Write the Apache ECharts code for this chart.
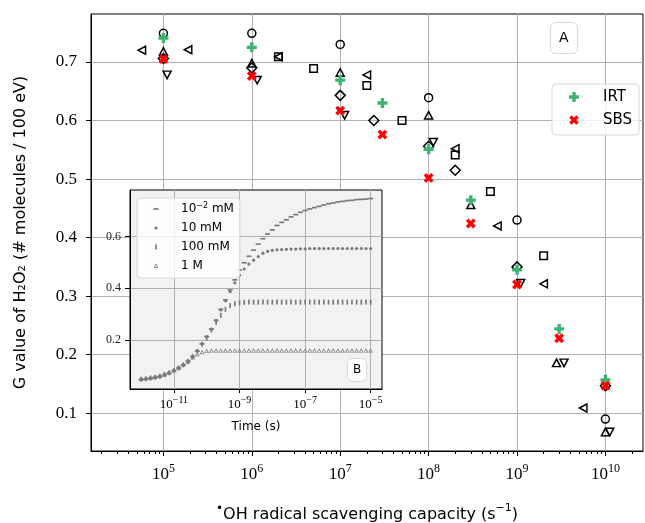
<!DOCTYPE html>
<html>
<head>
<meta charset="utf-8">
<script src="https://cdn.jsdelivr.net/npm/echarts@6/dist/echarts.min.js"></script>
<style>
  html, body { margin: 0; padding: 0; background: #fff; }
  #chart { width: 645px; height: 523px; }
</style>
</head>
<body>
<div id="chart"></div>
<script>
// Panel A: G value vs *OH scavenging capacity (s^-1)
const irtX = [1e5, 1e6, 1e7, 3e7, 1e8, 3e8, 1e9, 3e9, 1e10];
const irtY = [0.741, 0.725, 0.669, 0.630, 0.551, 0.464, 0.345, 0.244, 0.157];
const sbsX = [1e5, 1e6, 1e7, 3e7, 1e8, 3e8, 1e9, 3e9, 1e10];
const sbsY = [0.705, 0.676, 0.617, 0.576, 0.502, 0.424, 0.320, 0.228, 0.147];

// literature points (open black markers)
const circX = [1e5, 1e6, 1e7, 1e8, 1e9, 1e10];
const circY = [0.749, 0.749, 0.730, 0.639, 0.430, 0.090];
const triUpX = [1e5, 1e6, 1e7, 1e8, 3e8, 2.8e9, 1e10];
const triUpY = [0.718, 0.698, 0.682, 0.609, 0.456, 0.186, 0.068];
const triDownX = [1.1e5, 1.15e6, 1.12e7, 1.13e8, 1.1e9, 3.4e9, 1.12e10];
const triDownY = [0.678, 0.669, 0.609, 0.563, 0.322, 0.186, 0.068];
const triLeftX = [5.7e4, 1.9e5, 2e6, 2e7, 2e8, 6e8, 2e9, 5.6e9];
const triLeftY = [0.720, 0.721, 0.709, 0.678, 0.552, 0.420, 0.321, 0.109];
const diamX = [1e5, 1e6, 1e7, 2.4e7, 1e8, 2e8, 1e9, 1e10];
const diamY = [0.706, 0.690, 0.643, 0.600, 0.556, 0.515, 0.350, 0.147];
const sqX = [2e6, 5e6, 2e7, 5e7, 2e8, 5e8, 2e9];
const sqY = [0.709, 0.689, 0.660, 0.600, 0.541, 0.479, 0.369];

// Panel B: G(t), time as log10(seconds)
const timeExp = [-12, -11.857, -11.714, -11.571, -11.429, -11.286, -11.143, -11, -10.857, -10.714,
  -10.571, -10.429, -10.286, -10.143, -10, -9.857, -9.714, -9.571, -9.429, -9.286,
  -9.143, -9, -8.857, -8.714, -8.571, -8.429, -8.286, -8.143, -8, -7.857,
  -7.714, -7.571, -7.429, -7.286, -7.143, -7, -6.857, -6.714, -6.571, -6.429,
  -6.286, -6.143, -6, -5.857, -5.714, -5.571, -5.429, -5.286, -5.143, -5];
const g001mM = [0.048, 0.050, 0.053, 0.056, 0.060, 0.066, 0.073, 0.082, 0.092, 0.104,
  0.118, 0.136, 0.157, 0.185, 0.213, 0.242, 0.276, 0.318, 0.355, 0.393,
  0.432, 0.470, 0.498, 0.523, 0.547, 0.570, 0.591, 0.609, 0.625, 0.642,
  0.654, 0.664, 0.675, 0.684, 0.693, 0.700, 0.706, 0.711, 0.716, 0.721,
  0.726, 0.729, 0.733, 0.735, 0.738, 0.739, 0.742, 0.743, 0.744, 0.746];
const g10mM = [0.048, 0.050, 0.053, 0.056, 0.060, 0.066, 0.073, 0.082, 0.092, 0.104,
  0.118, 0.136, 0.157, 0.185, 0.212, 0.241, 0.275, 0.316, 0.351, 0.386,
  0.420, 0.450, 0.474, 0.493, 0.508, 0.522, 0.535, 0.542, 0.546, 0.548,
  0.549, 0.550, 0.551, 0.551, 0.552, 0.552, 0.553, 0.553, 0.553, 0.553,
  0.553, 0.553, 0.553, 0.553, 0.553, 0.553, 0.553, 0.553, 0.553, 0.553];
const g100mM = [0.048, 0.050, 0.053, 0.056, 0.060, 0.066, 0.073, 0.082, 0.092, 0.104,
  0.118, 0.136, 0.156, 0.183, 0.208, 0.238, 0.268, 0.295, 0.318, 0.332,
  0.340, 0.344, 0.345, 0.346, 0.346, 0.346, 0.346, 0.346, 0.346, 0.346,
  0.346, 0.346, 0.346, 0.346, 0.346, 0.346, 0.346, 0.346, 0.346, 0.346,
  0.346, 0.346, 0.346, 0.346, 0.346, 0.346, 0.346, 0.346, 0.346, 0.346];
const g1M = [0.048, 0.050, 0.053, 0.056, 0.060, 0.066, 0.073, 0.082, 0.092, 0.103,
  0.116, 0.131, 0.144, 0.152, 0.156, 0.158, 0.158, 0.158, 0.158, 0.158,
  0.158, 0.158, 0.158, 0.158, 0.158, 0.158, 0.158, 0.158, 0.158, 0.158,
  0.158, 0.158, 0.158, 0.158, 0.158, 0.158, 0.158, 0.158, 0.158, 0.158,
  0.158, 0.158, 0.158, 0.158, 0.158, 0.158, 0.158, 0.158, 0.158, 0.158];

// ticks
const mainXTicks = [5, 6, 7, 8, 9, 10];
const mainYTicks = [0.1, 0.2, 0.3, 0.4, 0.5, 0.6, 0.7];
const insetXTicks = [-11, -9, -7, -5];
const insetYTicks = [0.2, 0.4, 0.6];

const X_MIN = 4.181, X_MAX = 10.425;
const minorXTicks = [];
for (let n = 4; n <= 10; n++) {
    for (let k = 2; k <= 9; k++) {
        const v = n + Math.log10(k);
        if (v > X_MIN && v < X_MAX) minorXTicks.push(v);
    }
}

const SERIF = '"Liberation Serif", "DejaVu Serif", serif';
const SANS = '"DejaVu Sans", sans-serif';

// symbols drawn in a -5..5 box (the M's fix the box so size stays right)
const BOX = 'M-5,-5M5,5';
const PLUS = 'path://M-5,-1.667H-1.667V-5H1.667V-1.667H5V1.667H1.667V5H-1.667V1.667H-5Z';
const CROSS = 'path://' + BOX + 'M-2.357,-4.714L0,-2.357L2.357,-4.714L4.714,-2.357L2.357,0L4.714,2.357' +
    'L2.357,4.714L0,2.357L-2.357,4.714L-4.714,2.357L-2.357,0L-4.714,-2.357Z';
const DASH = 'path://' + BOX + 'M-2.5,-0.85H2.5V0.85H-2.5Z';
const DOT = 'path://' + BOX + 'M1.6,0A1.6,1.6,0,1,1,-1.6,0A1.6,1.6,0,1,1,1.6,0Z';
const VBAR = 'path://' + BOX + 'M-0.85,-2.5H0.85V2.5H-0.85Z';
const TRI = 'path://' + BOX + 'M0,-2.5L2.4,1.8L-2.4,1.8ZM0,-1.0L-1.2,1.1L1.2,1.1Z';

function toLog(xs, ys) {
    return xs.map((x, i) => [Math.log10(x), ys[i]]);
}

function insetPts(ys) {
    return timeExp.map((t, i) => [t, ys[i]]);
}

const openStyle = { color: 'rgba(0,0,0,0)', borderColor: '#000', borderWidth: 1.5, opacity: 1 };

function openSeries(name, xs, ys, symbol, size, rotate) {
    return {
        name: name,
        type: 'scatter',
        xAxisIndex: 0,
        yAxisIndex: 0,
        data: toLog(xs, ys),
        symbol: symbol,
        symbolSize: size,
        symbolRotate: rotate || 0,
        itemStyle: openStyle,
        z: 2
    };
}

function insetSeries(name, ys, symbol) {
    return {
        name: name,
        type: 'scatter',
        xAxisIndex: 2,
        yAxisIndex: 1,
        data: insetPts(ys),
        symbol: symbol,
        symbolSize: 10,
        itemStyle: { color: '#7a7a7a', opacity: 1 },
        z: 12
    };
}

const chart = echarts.init(document.getElementById('chart'));

const option = {
    animation: false,
    backgroundColor: '#fff',
    title: [
        {
            text: 'A', left: 550, top: 22,
            padding: [9, 9, 9, 9],
            borderColor: '#d8d8d8', borderWidth: 1, borderRadius: 5,
            backgroundColor: 'rgba(255,255,255,0.8)',
            textStyle: { fontSize: 14, fontWeight: 'normal', color: '#000', fontFamily: SANS }
        },
        {
            text: 'B', left: 347, top: 358,
            padding: [6, 6, 6, 6],
            borderColor: '#d8d8d8', borderWidth: 1, borderRadius: 5,
            backgroundColor: 'rgba(255,255,255,0.8)',
            textStyle: { fontSize: 12, fontWeight: 'normal', color: '#000', fontFamily: SANS },
            z: 20
        }
    ],
    legend: [
        {
            data: ['IRT', 'SBS'],
            orient: 'vertical',
            left: 552, top: 84,
            itemWidth: 48, itemHeight: 10, itemGap: 5,
            padding: [4, 7, 6, 17],
            backgroundColor: 'rgba(255,255,255,0.8)',
            borderColor: '#d8d8d8', borderWidth: 1, borderRadius: 4,
            textStyle: { fontSize: 15, lineHeight: 18, color: '#000', fontFamily: SANS }
        },
        {
            data: ['10^-2 mM', '10 mM', '100 mM', '1 M'],
            orient: 'vertical',
            left: 137, top: 198,
            itemWidth: 40, itemHeight: 10, itemGap: 5,
            padding: [4, 6, 5, 14],
            backgroundColor: 'rgba(255,255,255,0.8)',
            borderColor: '#d8d8d8', borderWidth: 1, borderRadius: 4,
            formatter: function (name) {
                return name === '10^-2 mM' ? '10{e|−2} mM' : name;
            },
            textStyle: {
                fontSize: 12, lineHeight: 14, color: '#000', fontFamily: SANS,
                rich: { e: { fontSize: 8, lineHeight: 8, verticalAlign: 'top', fontFamily: SANS } }
            },
            z: 20
        }
    ],
    grid: [
        {
            left: 91, top: 14, width: 552, height: 437,
            outerBoundsMode: 'none', containLabel: false,
            show: true, borderColor: '#000', borderWidth: 1, backgroundColor: '#fff'
        },
        {
            left: 130, top: 190, width: 252, height: 199,
            outerBoundsMode: 'none', containLabel: false,
            show: true, borderColor: '#000', borderWidth: 1, backgroundColor: '#f2f2f2',
            z: 10
        }
    ],
    xAxis: [
        {
            gridIndex: 0, type: 'value', min: X_MIN, max: X_MAX,
            axisLine: { show: true, onZero: false, lineStyle: { color: '#000', width: 1 } },
            axisTick: { show: true, customValues: mainXTicks, length: 5, lineStyle: { color: '#000' } },
            axisLabel: {
                customValues: mainXTicks, margin: 12,
                formatter: function (v) { return '{b|10}{e|' + v + '}'; },
                rich: {
                    b: { fontFamily: SERIF, fontSize: 17, lineHeight: 20, verticalAlign: 'bottom', color: '#000' },
                    e: { fontFamily: SERIF, fontSize: 12, lineHeight: 12, verticalAlign: 'top', color: '#000' }
                }
            },
            splitLine: { show: true, lineStyle: { color: '#b0b0b0', width: 1 } },
            name: '{d|•}{t|OH radical scavenging capacity (s}{e|−1}{t|)}',
            nameLocation: 'middle', nameGap: 52,
            nameTextStyle: {
                rich: {
                    t: { fontFamily: SANS, fontSize: 16, lineHeight: 20, verticalAlign: 'bottom', color: '#000' },
                    d: { fontFamily: SANS, fontSize: 12, lineHeight: 12, verticalAlign: 'top', color: '#000' },
                    e: { fontFamily: SANS, fontSize: 11, lineHeight: 11, verticalAlign: 'top', color: '#000' }
                }
            }
        },
        {
            gridIndex: 0, type: 'value', min: X_MIN, max: X_MAX, position: 'bottom', offset: 0,
            axisLine: { show: false },
            axisTick: { show: true, customValues: minorXTicks, length: 3, lineStyle: { color: '#000' } },
            axisLabel: { show: false },
            splitLine: { show: false }
        },
        {
            gridIndex: 1, type: 'value', min: -12.34, max: -4.655, z: 11,
            axisLine: { show: true, onZero: false, lineStyle: { color: '#000', width: 1 } },
            axisTick: { show: true, customValues: insetXTicks, length: 4, lineStyle: { color: '#000' } },
            axisLabel: {
                customValues: insetXTicks, margin: 6,
                formatter: function (v) { return '{b|10}{e|−' + Math.abs(v) + '}'; },
                rich: {
                    b: { fontFamily: SERIF, fontSize: 13, lineHeight: 16, verticalAlign: 'bottom', color: '#000' },
                    e: { fontFamily: SERIF, fontSize: 10, lineHeight: 10, verticalAlign: 'top', color: '#000' }
                }
            },
            splitLine: { show: true, lineStyle: { color: '#b0b0b0', width: 1 } },
            name: 'Time (s)', nameLocation: 'middle', nameGap: 32,
            nameTextStyle: { fontFamily: SANS, fontSize: 12, color: '#000' }
        }
    ],
    yAxis: [
        {
            gridIndex: 0, type: 'value', min: 0.0355, max: 0.782,
            axisLine: { show: true, onZero: false, lineStyle: { color: '#000', width: 1 } },
            axisTick: { show: true, customValues: mainYTicks, length: 5, lineStyle: { color: '#000' } },
            axisLabel: {
                customValues: mainYTicks, margin: 14,
                formatter: function (v) { return v.toFixed(1); },
                fontFamily: SERIF, fontSize: 17, color: '#000'
            },
            splitLine: { show: true, lineStyle: { color: '#b0b0b0', width: 1 } },
            name: 'G value of H₂O₂ (# molecules / 100 eV)',
            nameLocation: 'middle', nameGap: 62,
            nameTextStyle: { fontFamily: SANS, fontSize: 16, color: '#000' }
        },
        {
            gridIndex: 1, type: 'value', min: 0.0105, max: 0.779, z: 11,
            axisLine: { show: true, onZero: false, lineStyle: { color: '#000', width: 1 } },
            axisTick: { show: true, customValues: insetYTicks, length: 5, lineStyle: { color: '#000' } },
            axisLabel: {
                customValues: insetYTicks, margin: 9,
                formatter: function (v) { return v.toFixed(1); },
                fontFamily: SERIF, fontSize: 12, color: '#222'
            },
            splitLine: { show: true, lineStyle: { color: '#b0b0b0', width: 1 } }
        }
    ],
    series: [
        openSeries('circle', circX, circY, 'circle', 8),
        openSeries('triUp', triUpX, triUpY, 'triangle', [8, 7.5]),
        openSeries('triDown', triDownX, triDownY, 'triangle', [8, 7.5], 180),
        openSeries('triLeft', triLeftX, triLeftY, 'triangle', [8, 7.5], 90),
        openSeries('diamond', diamX, diamY, 'diamond', [10, 10]),
        openSeries('square', sqX, sqY, 'rect', 7.5),
        {
            name: 'IRT', type: 'scatter', xAxisIndex: 0, yAxisIndex: 0,
            data: toLog(irtX, irtY),
            symbol: PLUS, symbolSize: 10,
            itemStyle: { color: '#3cb371', opacity: 1 },
            z: 3
        },
        {
            name: 'SBS', type: 'scatter', xAxisIndex: 0, yAxisIndex: 0,
            data: toLog(sbsX, sbsY),
            symbol: CROSS, symbolSize: 10.5,
            itemStyle: { color: '#ff0000', opacity: 1 },
            z: 4
        },
        insetSeries('10^-2 mM', g001mM, DASH),
        insetSeries('10 mM', g10mM, DOT),
        insetSeries('100 mM', g100mM, VBAR),
        insetSeries('1 M', g1M, TRI)
    ]
};

chart.setOption(option);
</script>
</body>
</html>
